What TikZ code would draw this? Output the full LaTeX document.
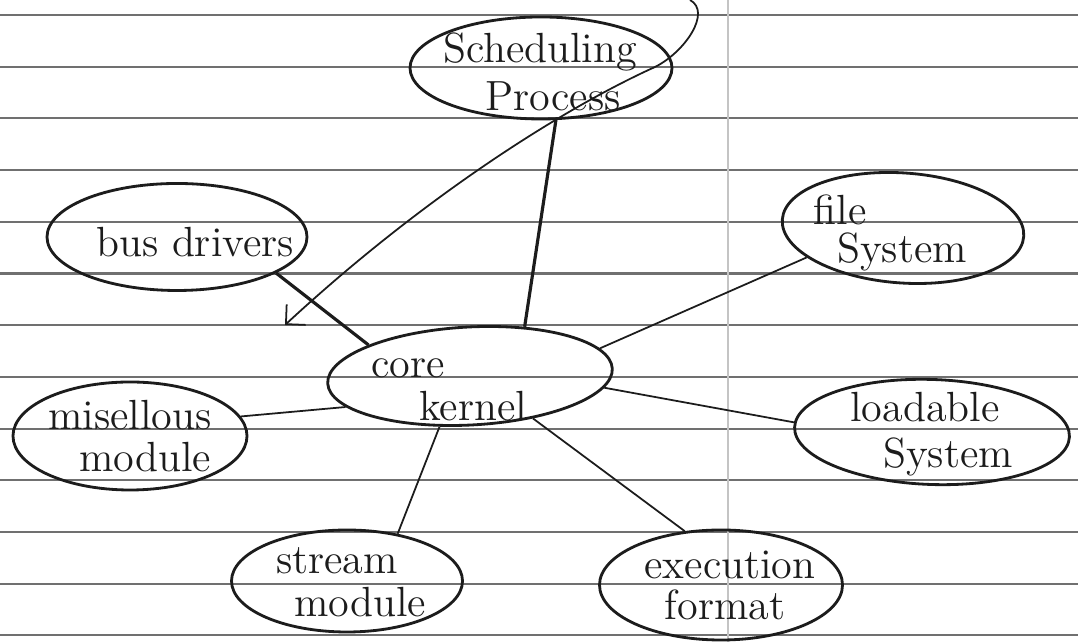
\documentclass[tikz,border=0pt]{standalone}
\usepackage{xcolor}
\usepackage{tikz}
\usetikzlibrary{arrows.meta, shapes.geometric}
\definecolor{ink}{HTML}{1C1C1C}
\definecolor{ruling}{HTML}{707070}
\definecolor{margin}{HTML}{C4C4C4}

\begin{document}
\begin{tikzpicture}[font=\fontsize{12}{14}\selectfont, >=Stealth,
    bubble/.style={draw=ink, line width=0.8pt, ellipse, inner sep=0pt},
    hand/.style={text=ink, inner sep=0pt},
    link/.style={draw=ink, line width=0.5pt},
    boldlink/.style={draw=ink, line width=0.9pt}]
  % Papír s linkami
  \useasboundingbox (0,0) rectangle (10.78,6.42);
  \fill[white] (0,0) rectangle (10.78,6.42);
  \foreach \k in {0,...,12} {
    \draw[ruling, line width=0.6pt] (0,6.27-0.517*\k) -- (10.78,6.27-0.517*\k);
  }
  \draw[margin, line width=0.4pt] (7.28,0) -- (7.28,6.42);

  % Elipsy (jméno/x/y/šířka/výška/natočení)
  \foreach \nm/\x/\y/\w/\h/\r in {sched/5.41/5.74/2.62/1.02/0, bus/1.77/4.05/2.60/1.07/0,
                                  file/9.03/4.14/2.42/1.10/-4, core/4.70/2.66/2.85/0.98/3,
                                  misc/1.30/2.06/2.34/1.08/0, load/9.32/2.10/2.75/1.05/-2,
                                  stream/3.47/0.61/2.31/1.02/0, exec/7.21/0.57/2.43/1.10/0} {
    \node[bubble, minimum width=\w cm, minimum height=\h cm, rotate=\r] (\nm) at (\x,\y) {};
  }

  % Popisky
  \foreach \nm/\x/\y/\txt in {schedA/5.40/5.90/Scheduling, schedB/5.53/5.46/Process,
                              busT/1.95/4.00/{bus drivers},
                              fileA/8.40/4.32/file, fileB/9.02/3.90/System,
                              coreA/4.08/2.74/core, coreB/4.73/2.36/kernel,
                              miscA/1.30/2.27/misellous, miscB/1.45/1.85/module,
                              loadA/9.25/2.35/loadable, loadB/9.48/1.85/System,
                              streamA/3.37/0.81/stream, streamB/3.60/0.40/module,
                              execA/7.30/0.77/execution, execB/7.25/0.37/format} {
    \node[hand] (\nm) at (\x,\y) {\txt};
  }

  % Spojnice k jádru
  \draw[boldlink] (sched.-74) -- (core.39);
  \draw[boldlink] (bus.-20) -- (core.160);
  \draw[link] (file.201) -- (core.9);
  \draw[link] (misc.10) -- (core.191);
  \draw[link] (core.-8) -- (load.178);
  \draw[link] (stream.43) -- (core.236);
  \draw[link] (core.-37) -- (exec.124);

  % Tenká šipka přes plánování
  \coordinate (tail) at (6.90,6.42);
  \coordinate (bend) at (6.55,5.75);
  \coordinate (tip) at (2.85,3.17);
  \draw[link, -{Straight Barb[length=1.4mm]}] (tail) .. controls (7.12,6.30) and (6.85,5.90) .. (bend)
    .. controls (5.60,5.32) and (4.20,4.42) .. (tip);
\end{tikzpicture}
\end{document}
